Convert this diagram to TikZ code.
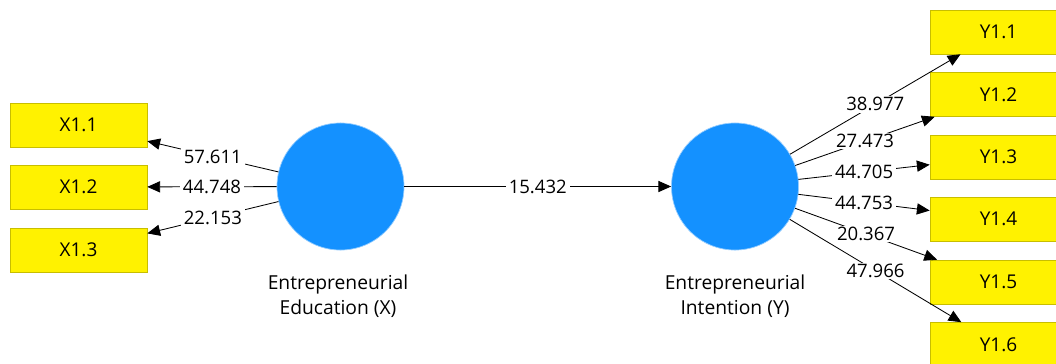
\documentclass[tikz,border=0pt]{standalone}
\usepackage{fontspec}
\setmainfont{Open Sans}
\usetikzlibrary{arrows.meta, positioning}
\definecolor{lvblue}{RGB}{20,145,255}
\definecolor{indborder}{RGB}{200,190,0}

\begin{document}
\begin{tikzpicture}[x=0.025cm, y=-0.025cm,
    ind/.style={rectangle, draw=indborder, fill=yellow, minimum width=3.425cm, minimum height=1.1cm, inner sep=0pt, font=\fontsize{13.5}{16}\selectfont},
    lv/.style={circle, fill=lvblue, draw=lvblue!45, line width=0.5pt, minimum size=3.175cm, inner sep=0pt},
    load/.style={-{Triangle[length=3.2mm, width=2.8mm]}, line width=0.6pt},
    val/.style={fill=white, inner xsep=2pt, inner ysep=1pt, font=\fontsize{13.2}{16}\selectfont},
    lvname/.style={align=center, font=\fontsize{13.7}{17.8}\selectfont}]
    \useasboundingbox (0,0) rectangle (1056,363);
    \clip (0,0) rectangle (1056,363);

    % latente Variablen
    \node[lv] (edu) at (340.5,186.5) {};
    \node[lv] (int) at (735,186.5) {};
    \node[lvname] (edulab) at (338,296) {Entrepreneurial\\Education (X)};
    \node[lvname] (intlab) at (735,296) {Entrepreneurial\\Intention (Y)};

    % Indikatoren X
    \node[ind] (x11) at (78.5,125) {X1.1};
    \node[ind] (x12) at (78.5,187) {X1.2};
    \node[ind] (x13) at (78.5,250) {X1.3};

    % Indikatoren Y
    \node[ind] (y11) at (998.5,32) {Y1.1};
    \node[ind] (y12) at (998.5,94.5) {Y1.2};
    \node[ind] (y13) at (998.5,157) {Y1.3};
    \node[ind] (y14) at (998.5,219) {Y1.4};
    \node[ind] (y15) at (998.5,282) {Y1.5};
    \node[ind] (y16) at (998.5,344.5) {Y1.6};

    % Ladungen X
    \draw[load] (edu) -- node[val] {57.611} (x11);
    \draw[load] (edu) -- node[val] {44.748} (x12);
    \draw[load] (edu) -- node[val] {22.153} (x13);

    % Pfad
    \draw[load] (edu) -- node[val] {15.432} (int);

    % Ladungen Y
    \draw[load] (int) -- node[val] {38.977} (y11);
    \draw[load] (int) -- node[val] {27.473} (y12);
    \draw[load] (int) -- node[val] {44.705} (y13);
    \draw[load] (int) -- node[val] {44.753} (y14);
    \draw[load] (int) -- node[val] {20.367} (y15);
    \draw[load] (int) -- node[val] {47.966} (y16);
\end{tikzpicture}
\end{document}
